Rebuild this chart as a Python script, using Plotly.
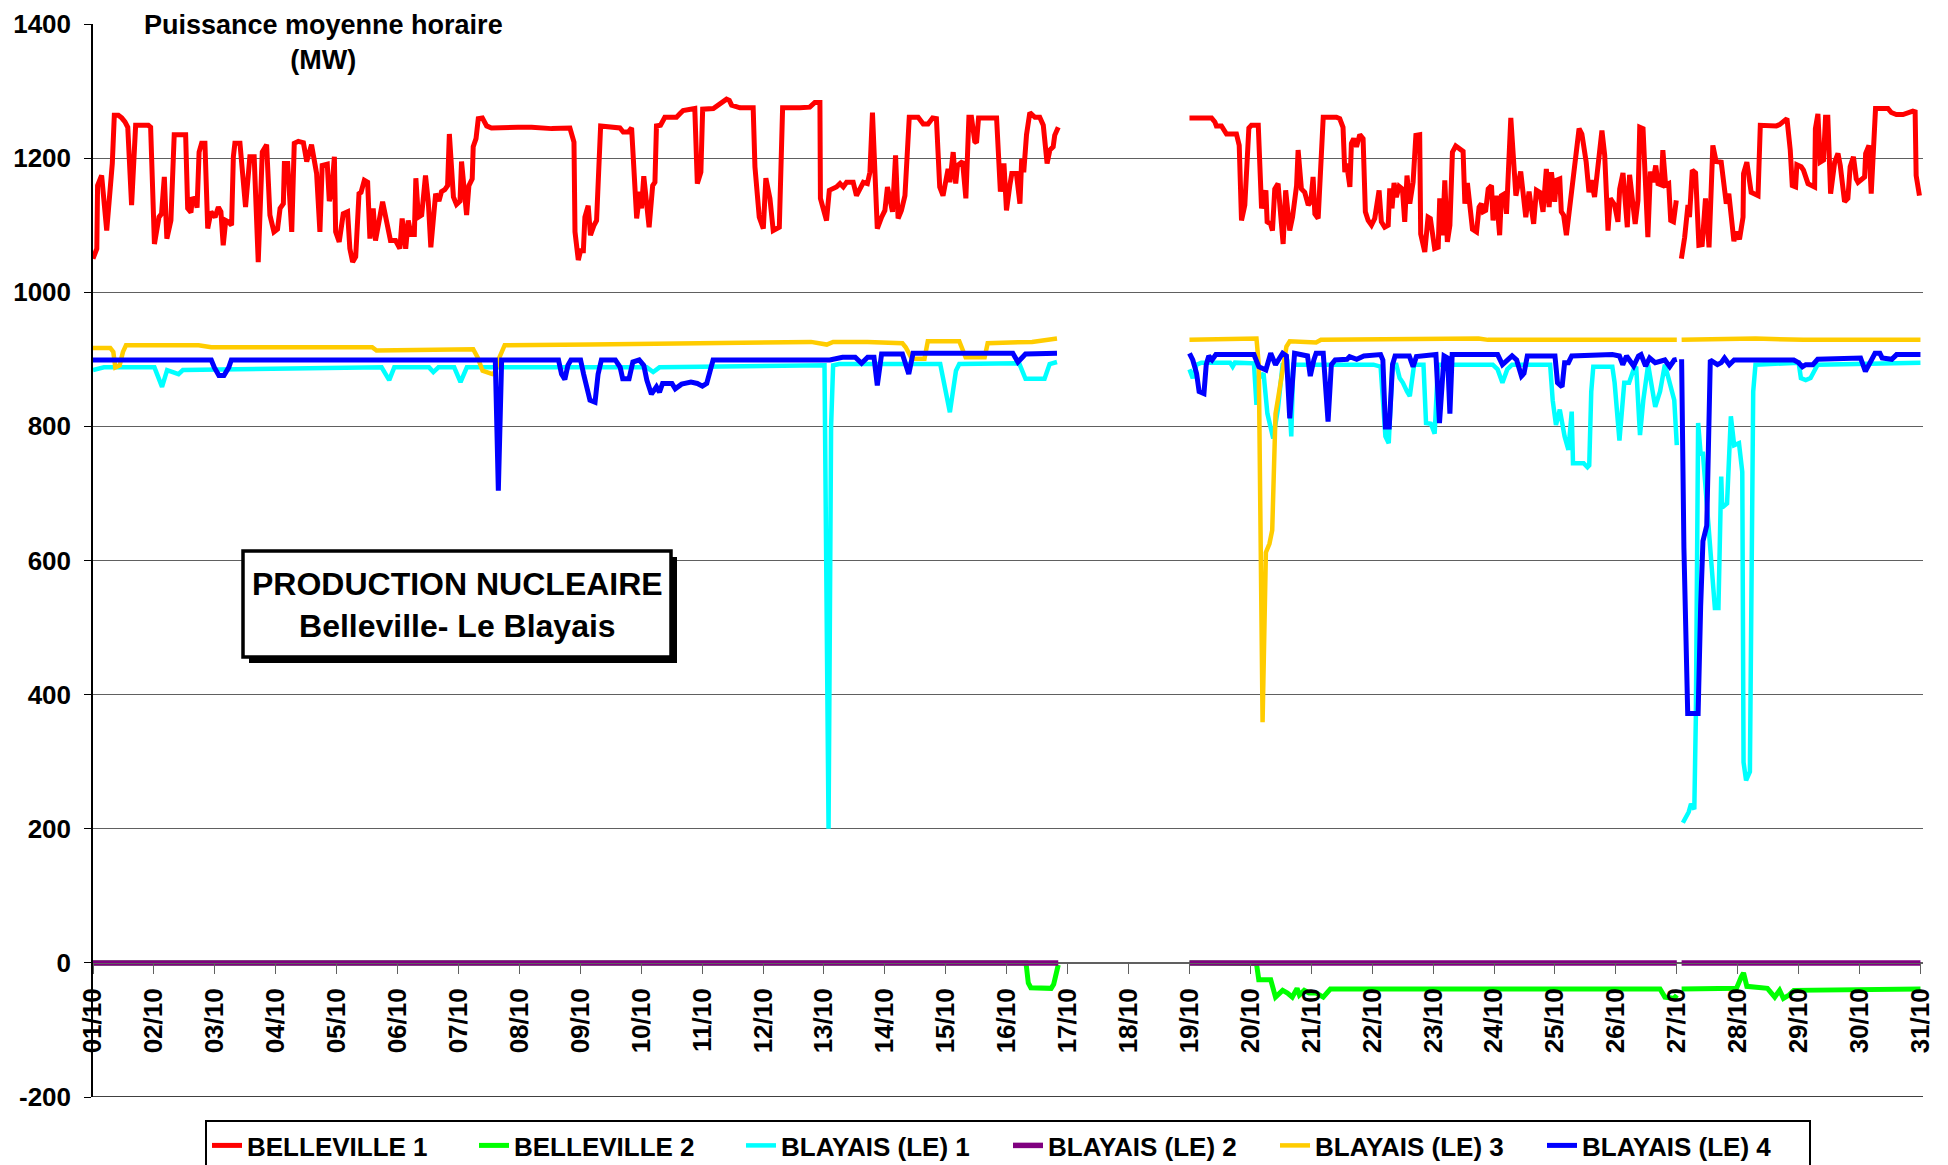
import plotly.graph_objects as go

# heure depuis le 01/10 00h00, puissance moyenne horaire en MW
# (None = pas de donnee)
belleville_1 = [
    (0, 1050), (1.5, 1065), (1.8, 1159), (3.4, 1174), (5.4, 1092), (6.7, 1159), (7.6, 1192), (8.4, 1264),
    (10.0, 1264), (11.3, 1260), (12.6, 1254), (13.7, 1246), (15.2, 1130), (16.8, 1249), (21.8, 1249),
    (22.7, 1246), (24.2, 1072), (26.0, 1112), (27.0, 1117), (28.1, 1172), (29.1, 1080), (30.7, 1107),
    (32.0, 1235), (36.5, 1235), (37.3, 1125), (38.6, 1119), (39.1, 1139), (40.2, 1140), (41.0, 1126),
    (41.8, 1209), (42.8, 1222), (44.1, 1222), (45.2, 1095), (46.5, 1120), (48.1, 1112), (49.4, 1127),
    (50.4, 1120), (51.3, 1070), (52.3, 1107), (53.3, 1105), (54.6, 1100), (55.3, 1202), (55.9, 1222),
    (57.9, 1222), (60.1, 1127), (61.8, 1202), (63.5, 1202), (65.1, 1045), (66.7, 1209), (68.4, 1220),
    (69.7, 1115), (71.3, 1090), (72.7, 1094), (73.7, 1125), (75.0, 1132), (75.4, 1192), (76.7, 1192),
    (78.3, 1090), (79.3, 1222), (80.9, 1225), (82.9, 1223), (84.2, 1195), (85.1, 1209), (86.1, 1220),
    (88.1, 1177), (89.4, 1090), (90.3, 1189), (92.3, 1191), (93.1, 1136), (94.0, 1149), (95.1, 1202),
    (95.6, 1090), (97.0, 1075), (98.6, 1117), (100.3, 1120), (101.2, 1065), (102.3, 1045), (103.5, 1053),
    (104.8, 1147), (105.6, 1149), (106.9, 1167), (108.2, 1164), (109.1, 1080), (110.4, 1125), (111.3, 1077),
    (113.0, 1112), (114.1, 1135), (115.7, 1105), (117.2, 1077), (119.2, 1077), (120.9, 1065), (121.8, 1110),
    (123.2, 1065), (124.2, 1107), (125.3, 1086), (126.6, 1086), (127.2, 1170), (128.2, 1112), (129.5, 1115),
    (131.0, 1174), (132.1, 1135), (133.1, 1067), (135.0, 1147), (136.3, 1136), (137.3, 1150), (138.6, 1153),
    (139.7, 1159), (140.4, 1236), (142.0, 1142), (143.2, 1131), (144.6, 1136), (145.2, 1195), (147.2, 1115),
    (148.1, 1159), (149.4, 1169), (149.8, 1217), (150.9, 1229), (151.8, 1259), (153.4, 1260), (155.1, 1248),
    (157.0, 1245), (167.5, 1246), (172.8, 1246), (180.7, 1244), (187.9, 1245), (189.5, 1224), (189.9, 1090),
    (191.2, 1048), (192.1, 1062), (193.2, 1062), (193.8, 1112), (195.1, 1129), (196.0, 1085), (197.4, 1100),
    (198.4, 1107), (200.0, 1248), (206.3, 1246), (207.6, 1245), (208.9, 1239), (210.9, 1239), (212.2, 1245),
    (214.2, 1110), (215.5, 1150), (216.1, 1125), (217.0, 1173), (218.4, 1110), (219.1, 1097), (220.5, 1159),
    (221.4, 1164), (222.0, 1248), (223.6, 1249), (225.3, 1261), (229.9, 1261), (231.2, 1266), (232.5, 1271),
    (237.1, 1274), (238.1, 1162), (239.5, 1179), (240.2, 1273), (244.4, 1274), (247.0, 1281), (249.6, 1288),
    (250.7, 1286), (251.6, 1279), (254.9, 1275), (260.1, 1275), (260.8, 1187), (262.5, 1112), (264.1, 1095),
    (265.1, 1170), (266.7, 1140), (268.0, 1092), (270.4, 1097), (271.7, 1275), (278.5, 1275), (282.4, 1276),
    (284.4, 1283), (286.4, 1283), (286.6, 1140), (287.7, 1122), (289.0, 1107), (290.1, 1152), (292.9, 1157),
    (294.3, 1162), (295.6, 1157), (296.9, 1164), (299.5, 1164), (300.8, 1144), (303.5, 1164), (305.1, 1162),
    (306.1, 1179), (307.1, 1268), (309.0, 1095), (310.7, 1112), (312.0, 1122), (313.0, 1157), (315.0, 1120),
    (316.2, 1204), (317.2, 1110), (318.5, 1122), (319.9, 1144), (321.6, 1261), (325.1, 1261), (327.1, 1251),
    (329.0, 1251), (330.8, 1260), (332.3, 1259), (333.6, 1157), (334.9, 1144), (336.9, 1184), (337.6, 1164),
    (338.9, 1209), (339.9, 1162), (340.6, 1189), (342.6, 1195), (343.9, 1140), (345.1, 1261), (346.1, 1261),
    (347.4, 1225), (348.1, 1223), (348.9, 1260), (356.0, 1260), (357.5, 1150), (358.9, 1192), (359.9, 1122),
    (361.2, 1159), (362.0, 1177), (363.8, 1177), (365.2, 1132), (365.9, 1199), (366.7, 1179), (367.8, 1235),
    (369.1, 1268), (371.1, 1261), (373.0, 1261), (374.4, 1249), (375.9, 1192), (377.0, 1212), (378.3, 1217),
    (378.9, 1234), (380.3, 1246),
    (406, None),
    (432, 1260), (440.7, 1260), (442.0, 1254), (442.6, 1248), (444.6, 1248), (446.6, 1236), (450.5, 1236),
    (451.6, 1219), (452.5, 1107), (453.8, 1130), (455.4, 1245), (456.4, 1249), (459.1, 1249), (460.4, 1125),
    (462.1, 1152), (462.6, 1105), (463.9, 1102), (464.7, 1092), (465.6, 1154), (466.9, 1162), (468.9, 1072),
    (469.9, 1152), (471.5, 1092), (472.6, 1112), (474.2, 1159), (474.8, 1212), (476.1, 1154), (477.4, 1149),
    (478.8, 1130), (479.8, 1135), (480.7, 1172), (481.4, 1117), (482.7, 1110), (483.7, 1199), (484.7, 1261),
    (489.9, 1261), (491.2, 1259), (492.5, 1246), (493.2, 1179), (493.9, 1192), (495.2, 1157), (495.8, 1222),
    (496.7, 1229), (497.8, 1217), (499.1, 1235), (500.4, 1229), (501.3, 1120), (502.4, 1107), (503.7, 1100),
    (505.0, 1110), (506.7, 1152), (507.6, 1105), (508.9, 1097), (510.3, 1100), (510.9, 1155), (511.8, 1125),
    (512.6, 1163), (513.5, 1142), (514.6, 1158), (515.9, 1154), (516.8, 1105), (517.7, 1174), (518.8, 1132),
    (520.1, 1164), (521.2, 1234), (522.7, 1235), (523.1, 1087), (524.7, 1060), (526.0, 1112), (526.9, 1110),
    (528.6, 1065), (530.0, 1067), (530.6, 1140), (531.7, 1085), (532.6, 1167), (533.6, 1075), (534.6, 1100),
    (535.6, 1209), (536.9, 1218), (539.8, 1210), (540.5, 1132), (541.5, 1163), (542.4, 1130), (543.5, 1094),
    (545.1, 1090), (546.1, 1127), (547.0, 1132), (547.7, 1120), (548.7, 1122), (549.7, 1154), (551.0, 1159),
    (551.6, 1107), (552.9, 1144), (554.2, 1085), (554.9, 1144), (556.2, 1147), (556.9, 1117), (558.6, 1260),
    (560.6, 1144), (562.5, 1180), (564.5, 1112), (565.8, 1150), (567.6, 1102), (568.7, 1152), (570.0, 1149),
    (571.3, 1120), (572.6, 1184), (573.7, 1127), (574.6, 1179), (575.9, 1135), (576.6, 1167), (577.9, 1169),
    (578.5, 1120), (579.4, 1115), (580.5, 1085), (581.5, 1117), (583.1, 1159), (584.4, 1214), (585.5, 1244),
    (586.6, 1236), (588.3, 1194), (589.4, 1149), (590.3, 1167), (591.6, 1142), (593.6, 1214), (594.5, 1241),
    (595.6, 1204), (596.9, 1092), (597.8, 1140), (599.5, 1130), (600.8, 1105), (601.5, 1154), (602.8, 1178),
    (604.5, 1097), (605.4, 1175), (606.5, 1140), (607.6, 1102), (608.7, 1137), (609.4, 1246), (610.7, 1244),
    (612.6, 1082), (613.6, 1180), (614.6, 1164), (615.7, 1189), (616.6, 1162), (617.9, 1160), (618.5, 1212),
    (619.6, 1160), (620.8, 1162), (621.6, 1107), (622.7, 1105), (623.8, 1137),
    (624.8, None),
    (625.8, 1050), (627.1, 1082), (628.4, 1130), (629.0, 1112), (630.1, 1182), (631.4, 1178), (632.7, 1070),
    (634.0, 1071), (635.3, 1140), (636.7, 1067), (638.2, 1219), (639.5, 1195), (641.5, 1194), (642.8, 1149),
    (643.5, 1132), (644.5, 1147), (645.5, 1102), (646.5, 1076), (647.4, 1090), (648.7, 1079), (650.1, 1112),
    (650.3, 1177), (651.6, 1194), (653.3, 1149), (656.0, 1144), (656.9, 1249), (663.2, 1248), (664.5, 1250),
    (667.4, 1259), (668.7, 1212), (669.5, 1159), (670.8, 1157), (671.3, 1190), (673.0, 1187), (673.9, 1182),
    (675.7, 1162), (678.3, 1157), (678.6, 1244), (679.6, 1266), (680.5, 1194), (681.8, 1197), (682.6, 1261),
    (683.5, 1261), (684.6, 1147), (686.2, 1194), (687.5, 1207), (688.4, 1189), (690.1, 1135), (691.4, 1140),
    (692.3, 1187), (693.6, 1202), (694.7, 1169), (695.4, 1164), (698.0, 1172), (698.4, 1207), (699.7, 1219),
    (700.6, 1147), (702.3, 1274), (707.2, 1274), (708.5, 1268), (710.5, 1265), (713.1, 1265), (717.0, 1270),
    (717.9, 1269), (718.3, 1174), (719.6, 1144),
]

belleville_2 = [
    (0, 0), (367.6, 0), (368.5, -30), (369.5, -37), (377.5, -38), (378.5, -32), (380.3, -3),
    (406, None),
    (432, 0), (458.4, -1), (459.3, -25), (464.0, -25), (465.9, -51), (466.8, -48), (468.7, -41), (470.6, -45),
    (472.5, -51), (474.4, -38), (475.3, -48), (477.2, -41), (479.1, -45), (481.9, -45), (484.7, -51),
    (487.5, -39), (617.4, -39), (619.3, -51), (623.0, -53), (624.0, -48),
    (624.8, None),
    (625.9, -39), (643.7, -39), (647.5, -38), (649.4, -21), (650.3, -15), (651.6, -35), (659.7, -38),
    (662.6, -51), (664.5, -41), (666.0, -53), (668.2, -48), (670.1, -41), (720, -39),
]

blayais_1 = [
    (0, 884), (4.3, 888), (24.2, 888), (27.2, 859), (29.2, 884), (31.7, 881), (33.7, 878), (35.4, 884),
    (113.7, 888), (116.7, 869), (118.7, 888), (132.4, 888), (134.1, 881), (136.1, 888), (142.3, 888),
    (144.8, 866), (147.3, 888), (218.2, 888), (220.7, 881), (223.2, 888), (270.4, 891), (288.2, 891),
    (289.8, 200), (290.8, 800), (291.6, 891), (294.0, 893), (333.8, 893), (337.6, 821), (340.0, 883),
    (341.3, 893), (364.9, 894), (367.4, 871), (374.9, 871), (376.9, 893), (379.8, 896),
    (406, None),
    (432, 885), (433.3, 872), (434.8, 892), (436.7, 895), (448.0, 895), (449.0, 889), (449.9, 895),
    (457.4, 894), (458.4, 832), (459.3, 872), (461.2, 879), (462.7, 819), (465.0, 782), (466.8, 825),
    (468.7, 892), (470.6, 895), (472.1, 785), (472.9, 892), (504.5, 892), (507.3, 889), (509.2, 785),
    (510.5, 775), (512.0, 892), (513.5, 892), (514.8, 872), (516.1, 865), (517.7, 852), (518.8, 845),
    (520.5, 892), (524.2, 892), (525.2, 805), (527.1, 804), (528.6, 789), (529.9, 892), (551.5, 892),
    (553.4, 885), (555.3, 865), (557.2, 885), (559.1, 892), (574.1, 892), (575.1, 839), (576.4, 802),
    (577.9, 825), (579.8, 785), (581.3, 765), (582.6, 822), (583.1, 745), (587.3, 745), (588.8, 739),
    (589.5, 742), (590.3, 852), (591.1, 889), (598.6, 889), (599.5, 865), (601.4, 779), (603.3, 865),
    (605.2, 865), (607.0, 885), (608.0, 889), (609.5, 787), (610.8, 839), (612.7, 892), (615.5, 829),
    (617.4, 852), (619.3, 892), (621.2, 865), (623.0, 839), (624.0, 772),
    (624.8, None),
    (626.4, 209), (628.7, 225), (629.6, 237), (630.9, 229), (631.5, 365), (632.4, 805), (633.4, 759),
    (634.3, 759), (639.0, 529), (640.4, 529), (641.5, 725), (641.9, 679), (643.8, 685), (645.3, 815),
    (646.6, 772), (648.5, 775), (649.8, 732), (650.3, 299), (651.3, 272), (652.8, 285), (654.1, 852),
    (655.0, 892), (672.0, 895), (672.9, 872), (674.8, 869), (676.7, 872), (679.5, 892), (720, 895),
]

blayais_2 = [
    (0, 0), (380.3, 0),
    (406, None),
    (432, 0), (624.0, 0),
    (624.8, None),
    (625.9, 0), (720, 0),
]

blayais_3 = [
    (0, 917), (6.8, 917), (8.0, 911), (8.8, 888), (10.5, 891), (11.8, 911), (13.0, 921), (41.6, 921),
    (46.6, 918), (110.0, 918), (111.7, 913), (146.1, 914), (149.8, 915), (151.5, 903), (153.5, 883),
    (157.3, 878), (158.5, 881), (159.7, 899), (162.2, 921), (195.8, 922), (245.5, 924), (282.9, 926),
    (289.1, 922), (291.6, 926), (305.2, 926), (318.9, 924), (320.2, 918), (322.6, 901), (327.6, 901),
    (328.9, 927), (341.3, 927), (343.8, 903), (351.3, 903), (352.5, 924), (370.0, 926), (379.8, 931),
    (406, None),
    (432, 929), (458.4, 931), (459.3, 892), (460.8, 359), (462.1, 612), (463.5, 625), (464.6, 645),
    (465.9, 819), (466.8, 839), (468.7, 879), (470.2, 919), (471.5, 927), (481.9, 925), (483.8, 929),
    (538.4, 932), (545.9, 931), (549.6, 929), (624.0, 929),
    (624.8, None),
    (625.9, 929), (655.0, 931), (673.9, 929), (720, 929),
]

blayais_4 = [
    (0, 899), (46.6, 899), (47.8, 888), (49.6, 876), (51.6, 876), (53.5, 888), (54.5, 899), (158.5, 899),
    (159.7, 704), (161.0, 899), (183.4, 899), (184.6, 878), (185.9, 870), (187.1, 891), (188.3, 899),
    (192.1, 899), (193.3, 878), (195.8, 839), (197.8, 836), (199.0, 878), (200.3, 899), (205.8, 899),
    (207.7, 888), (208.7, 871), (211.2, 871), (212.7, 896), (215.2, 899), (217.0, 891), (218.2, 869),
    (220.0, 848), (222.0, 859), (223.2, 851), (224.4, 864), (228.1, 864), (229.4, 856), (231.9, 863),
    (235.6, 866), (238.1, 864), (240.1, 860), (241.8, 864), (244.3, 899), (290.3, 899), (295.3, 903),
    (300.3, 903), (302.8, 894), (305.2, 903), (307.7, 903), (309.0, 861), (310.7, 908), (318.9, 908),
    (321.4, 878), (323.1, 909), (362.4, 909), (364.4, 896), (367.4, 908), (379.8, 909),
    (406, None),
    (432, 909), (433.3, 899), (434.8, 879), (435.8, 852), (437.7, 849), (438.6, 892), (439.6, 905),
    (440.9, 899), (442.4, 907), (457.4, 907), (459.3, 889), (462.1, 884), (464.0, 909), (465.9, 892),
    (468.7, 909), (470.2, 905), (471.5, 812), (473.4, 909), (478.5, 905), (479.6, 875), (481.0, 899),
    (481.9, 909), (484.7, 909), (486.6, 807), (487.9, 892), (489.4, 899), (494.1, 900), (495.1, 904),
    (497.9, 900), (500.7, 905), (507.3, 907), (508.2, 899), (509.2, 799), (510.7, 799), (512.0, 892),
    (513.0, 905), (518.6, 905), (520.1, 889), (521.4, 904), (529.1, 907), (530.5, 805), (532.3, 905),
    (533.7, 902), (534.6, 819), (535.5, 907), (553.4, 907), (555.3, 892), (557.2, 899), (559.1, 905),
    (560.9, 899), (562.8, 875), (563.8, 879), (565.1, 905), (576.0, 905), (577.0, 865), (578.8, 859),
    (579.8, 895), (581.3, 895), (582.6, 905), (598.6, 907), (601.4, 905), (602.7, 892), (604.2, 905),
    (607.0, 890), (608.9, 905), (609.9, 907), (611.7, 890), (613.3, 902), (615.5, 895), (619.3, 899),
    (621.2, 889), (623.0, 899), (624.0, 900),
    (624.8, None),
    (625.9, 900), (626.8, 619), (628.3, 372), (632.4, 372), (633.4, 532), (634.3, 629), (635.8, 652),
    (636.6, 839), (637.2, 899), (640.0, 892), (641.5, 895), (642.8, 902), (644.7, 892), (646.6, 899),
    (655.0, 899), (670.1, 899), (672.0, 895), (673.5, 889), (674.8, 892), (677.6, 892), (679.5, 900),
    (696.4, 902), (698.3, 882), (700.2, 895), (702.1, 909), (704.0, 909), (704.9, 902), (708.7, 900),
    (710.6, 907), (720, 907),
]

day_hours = [0, 24, 48, 72, 96, 120, 144, 168, 192, 216, 240, 264, 288, 312, 336, 360,
             384, 408, 432, 456, 480, 504, 528, 552, 576, 600, 624, 648, 672, 696, 720]
day_labels = ["01/10", "02/10", "03/10", "04/10", "05/10", "06/10", "07/10", "08/10",
              "09/10", "10/10", "11/10", "12/10", "13/10", "14/10", "15/10", "16/10",
              "17/10", "18/10", "19/10", "20/10", "21/10", "22/10", "23/10", "24/10",
              "25/10", "26/10", "27/10", "28/10", "29/10", "30/10", "31/10"]
mw_ticks = [-200, 0, 200, 400, 600, 800, 1000, 1200, 1400]
mw_labels = ["-200", "0", "200", "400", "600", "800", "1000", "1200", "1400"]

series = [
    ("BELLEVILLE 1", belleville_1, "#FF0000", 5),
    ("BELLEVILLE 2", belleville_2, "#00FF00", 5),
    ("BLAYAIS (LE) 1", blayais_1, "#00FFFF", 4.5),
    ("BLAYAIS (LE) 2", blayais_2, "#800080", 5.5),
    ("BLAYAIS (LE) 3", blayais_3, "#FFCC00", 4.5),
    ("BLAYAIS (LE) 4", blayais_4, "#0000FF", 5),
]

FONT = "Arial, Liberation Sans, sans-serif"
# la page html ajoute une marge de 8 px autour du graphique
OFF = 8
W, H = 1948 - OFF, 1165 - OFF
ml, mr, mt, mb = 93 - OFF, 25, 24 - OFF, 68
pw, ph = W - ml - mr, H - mt - mb


def px(x):
    # position sur l'image -> coordonnee paper
    return (x - OFF - ml) / pw


def py(y):
    return (H - mb - (y - OFF)) / ph


fig = go.Figure()
for name, data, color, lw in series:
    fig.add_trace(go.Scatter(
        x=[p[0] for p in data], y=[p[1] for p in data],
        mode="lines", name=name,
        line=dict(color=color, width=lw),
    ))

fig.update_layout(
    width=W, height=H,
    margin=dict(l=ml, r=mr, t=mt, b=mb, autoexpand=False),
    paper_bgcolor="white", plot_bgcolor="white",
    font=dict(family=FONT, color="black"),
    showlegend=True,
    legend=dict(
        orientation="h", x=0.5, xanchor="center", y=py(1120), yanchor="top",
        font=dict(family=FONT, size=26, weight="bold", color="black"),
        bordercolor="black", borderwidth=2, bgcolor="white",
        entrywidth=222, entrywidthmode="pixels", itemwidth=30,
    ),
    xaxis=dict(
        range=[0, 721], tickmode="array", tickvals=day_hours, ticktext=day_labels,
        tickangle=-90, tickfont=dict(family=FONT, size=26, weight="bold", color="black"),
        anchor="free", position=0.125,
        showgrid=False, zeroline=False,
        showline=True, linecolor="#606060", linewidth=1,
        ticks="outside", ticklen=10, tickcolor="#606060", ticklabelstandoff=4,
    ),
    yaxis=dict(
        range=[-200, 1400], tickmode="array", tickvals=mw_ticks, ticktext=mw_labels,
        tickfont=dict(family=FONT, size=26, weight="bold", color="black"),
        showgrid=True, gridcolor="#606060", gridwidth=1, zeroline=False,
        showline=True, linecolor="black", linewidth=1.5,
        ticks="outside", ticklen=7, tickcolor="black", ticklabelstandoff=8,
    ),
    shapes=[
        dict(type="line", xref="paper", yref="y", x0=0, x1=1, y0=-200, y1=-200,
             line=dict(color="black", width=1.5), layer="above"),
        dict(type="rect", xref="paper", yref="paper",
             x0=px(249), x1=px(677), y0=py(663), y1=py(557),
             fillcolor="black", line=dict(width=0), layer="above"),
        dict(type="rect", xref="paper", yref="paper",
             x0=px(243), x1=px(671), y0=py(657), y1=py(551),
             fillcolor="white", line=dict(color="black", width=3.5), layer="above"),
    ],
    annotations=[
        dict(text="<b>Puissance moyenne horaire<br>(MW)</b>", xref="paper", yref="paper",
             x=px(323), y=py(42), xanchor="center", yanchor="middle", showarrow=False,
             font=dict(family=FONT, size=27, color="black"), bgcolor="white", borderpad=1),
        dict(text="<b>PRODUCTION NUCLEAIRE<br>Belleville- Le Blayais</b>", xref="paper", yref="paper",
             x=px(457), y=py(605), xanchor="center", yanchor="middle", showarrow=False,
             font=dict(family=FONT, size=32, color="black")),
    ],
)

fig.write_html("out.html")
